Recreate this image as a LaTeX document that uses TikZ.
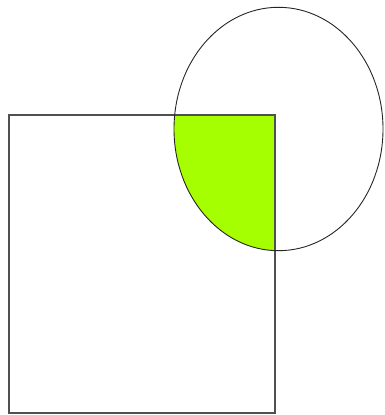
\documentclass[tikz,border=0pt]{standalone}
\definecolor{limefill}{HTML}{A6FF00}
\definecolor{boxgray}{HTML}{505050}
\tikzset{
  boxline/.style={draw=boxgray, line width=1.1pt},
  ringline/.style={draw=black!85, line width=0.9pt},
}
\begin{document}
\begin{tikzpicture}[x=1pt,y=-1pt]
\useasboundingbox (0,0) rectangle (385,415);
\begin{scope}
  \clip (9,115) rectangle (275,413);
  \fill[limefill] (278.5,129) ellipse [x radius=104.5, y radius=121.7];
\end{scope}
\draw[boxline] (9,115) rectangle (275,413);
\draw[ringline] (278.5,129) ellipse [x radius=104.5, y radius=121.7];
\end{tikzpicture}
\end{document}
